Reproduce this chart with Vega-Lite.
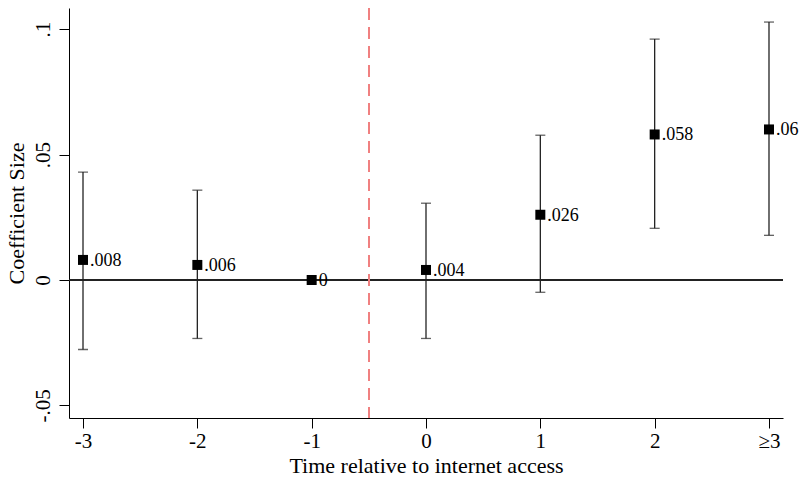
{
  "$schema": "https://vega.github.io/schema/vega-lite/v6.json",
  "width": 714,
  "height": 410,
  "autosize": {"type": "none"},
  "padding": {"left": 69, "top": 8, "right": 19, "bottom": 63},
  "background": "white",
  "config": {
    "view": {"stroke": null},
    "font": "Liberation Serif",
    "axis": {
      "grid": false,
      "domainColor": "#000",
      "domainWidth": 1,
      "tickColor": "#000",
      "tickWidth": 1,
      "tickSize": 10,
      "labelFont": "Liberation Serif",
      "labelFontSize": 21,
      "labelColor": "#000",
      "titleFont": "Liberation Serif",
      "titleFontSize": 22,
      "titleFontWeight": "normal",
      "titleColor": "#000"
    }
  },
  "data": {
    "values": [
      {"t": -3, "coef": 0.008, "lo": -0.0277, "hi": 0.043},
      {"t": -2, "coef": 0.006, "lo": -0.0233, "hi": 0.0358},
      {"t": -1, "coef": 0.0, "lo": null, "hi": null},
      {"t": 0, "coef": 0.004, "lo": -0.0233, "hi": 0.0306},
      {"t": 1, "coef": 0.026, "lo": -0.0049, "hi": 0.0577},
      {"t": 2, "coef": 0.058, "lo": 0.0206, "hi": 0.096},
      {"t": 3, "coef": 0.06, "lo": 0.0178, "hi": 0.1028}
    ]
  },
  "encoding": {
    "x": {
      "field": "t",
      "type": "quantitative",
      "scale": {"domain": [-3.1225, 3.1225], "nice": false, "zero": false},
      "axis": {
        "values": [-3, -2, -1, 0, 1, 2, 3],
        "labelExpr": "datum.value == 3 ? '≥3' : toString(datum.value)",
        "labelPadding": 2,
        "title": "Time relative to internet access",
        "titlePadding": 4
      }
    }
  },
  "layer": [
    {
      "mark": {"type": "rule", "color": "#222", "strokeWidth": 1},
      "encoding": {"x": null, "y": {"datum": 0, "type": "quantitative"}}
    },
    {
      "mark": {"type": "rule", "color": "#f08080", "strokeWidth": 1.5, "strokeDash": [12, 7]},
      "encoding": {"x": {"datum": -0.5, "type": "quantitative"}}
    },
    {
      "transform": [{"filter": "isValid(datum.lo)"}],
      "mark": {"type": "rule", "color": "#222", "strokeWidth": 1.3},
      "encoding": {
        "y": {"field": "lo", "type": "quantitative"},
        "y2": {"field": "hi"}
      }
    },
    {
      "transform": [{"filter": "isValid(datum.lo)"}],
      "mark": {"type": "tick", "orient": "horizontal", "color": "#222", "size": 10, "thickness": 1.3},
      "encoding": {"y": {"field": "lo", "type": "quantitative"}}
    },
    {
      "transform": [{"filter": "isValid(datum.hi)"}],
      "mark": {"type": "tick", "orient": "horizontal", "color": "#222", "size": 10, "thickness": 1.3},
      "encoding": {"y": {"field": "hi", "type": "quantitative"}}
    },
    {
      "mark": {"type": "square", "color": "#000", "opacity": 1, "filled": true, "size": 100},
      "encoding": {
        "y": {
          "field": "coef",
          "type": "quantitative",
          "scale": {"domain": [-0.055, 0.1084], "nice": false, "zero": false},
          "axis": {
            "values": [-0.05, 0, 0.05, 0.1],
            "labelExpr": "replace(toString(datum.value), '0.', '.')",
            "labelAngle": 270,
            "labelAlign": "center",
            "labelBaseline": "bottom",
            "labelPadding": 6,
            "title": "Coefficient Size",
            "titlePadding": 4
          }
        }
      }
    },
    {
      "transform": [
        {"calculate": "replace(format(datum.coef, '.3~f'), '0.', '.')", "as": "lab"}
      ],
      "mark": {"type": "text", "align": "left", "baseline": "middle", "dx": 7, "dy": 1, "fontSize": 18, "color": "#000", "font": "Liberation Serif"},
      "encoding": {
        "y": {"field": "coef", "type": "quantitative"},
        "text": {"field": "lab"}
      }
    }
  ]
}
